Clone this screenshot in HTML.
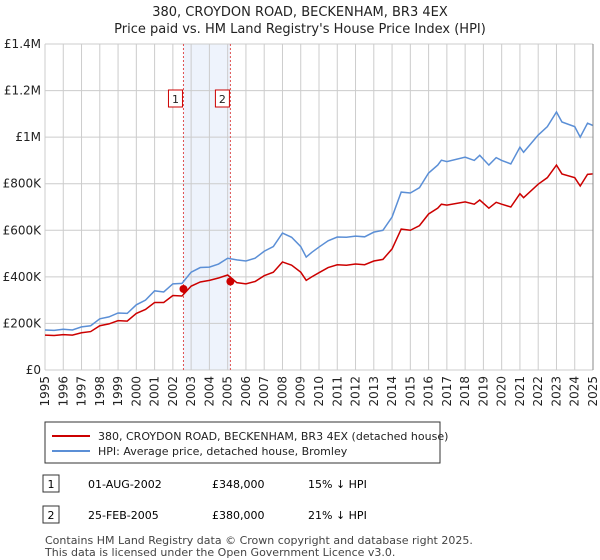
<!DOCTYPE html>
<html><head><meta charset="utf-8"><style>
body{margin:0;background:#fff;font-family:"Liberation Sans","DejaVu Sans",sans-serif;}
#wrap{position:relative;width:600px;height:560px;overflow:hidden}
text{font-family:"DejaVu Sans","Liberation Sans",sans-serif}
</style></head><body><div id="wrap">
<svg id="svg" width="600" height="560">
<text x="300" y="16" text-anchor="middle" font-size="13" fill="#222">380, CROYDON ROAD, BECKENHAM, BR3 4EX</text>
<text x="300" y="33" text-anchor="middle" font-size="13" fill="#222">Price paid vs. HM Land Registry's House Price Index (HPI)</text>
<g id="grid"></g><g id="marks"></g><g id="axes"></g>
<rect x="45" y="422" width="395" height="41" fill="#fff" stroke="#333"/>
<line x1="52" y1="436" x2="90" y2="436" stroke="#cc0000" stroke-width="2"/>
<text x="98" y="440" font-size="11" fill="#222">380, CROYDON ROAD, BECKENHAM, BR3 4EX (detached house)</text>
<line x1="52" y1="451" x2="90" y2="451" stroke="#5b8fd6" stroke-width="2"/>
<text x="98" y="455" font-size="11" fill="#222">HPI: Average price, detached house, Bromley</text>
<rect x="43" y="475" width="16" height="17" fill="#fff" stroke="#333"/>
<text x="51" y="488" font-size="11" text-anchor="middle">1</text>
<text x="88" y="488" font-size="11">01-AUG-2002</text>
<text x="212" y="488" font-size="11">£348,000</text>
<text x="308" y="488" font-size="11">15% ↓ HPI</text>
<rect x="43" y="506" width="16" height="17" fill="#fff" stroke="#333"/>
<text x="51" y="519" font-size="11" text-anchor="middle">2</text>
<text x="88" y="519" font-size="11">25-FEB-2005</text>
<text x="212" y="519" font-size="11">£380,000</text>
<text x="308" y="519" font-size="11">21% ↓ HPI</text>
<text x="45" y="544" font-size="11" fill="#444">Contains HM Land Registry data © Crown copyright and database right 2025.</text>
<text x="45" y="556" font-size="11" fill="#444">This data is licensed under the Open Government Licence v3.0.</text>
</svg></div>
<script>
const years=[1995,1995.5,1996,1996.5,1997,1997.5,1998,1998.5,1999,1999.5,2000,2000.5,2001,2001.5,2002,2002.5,2003,2003.5,2004,2004.5,2005,2005.5,2006,2006.5,2007,2007.5,2008,2008.5,2009,2009.3,2009.6,2010,2010.5,2011,2011.5,2012,2012.5,2013,2013.5,2014,2014.5,2015,2015.5,2016,2016.5,2016.7,2017,2018,2018.5,2018.8,2019.3,2019.7,2020,2020.5,2021,2021.2,2022,2022.5,2023,2023.3,2024,2024.3,2024.7,2025];
const hpi=[172,170,175,172,185,190,220,228,245,243,280,300,340,335,370,372,420,440,442,455,480,473,468,480,510,530,588,570,530,485,505,528,555,571,570,575,572,592,600,657,764,760,783,846,880,901,895,914,900,922,880,912,900,885,957,935,1009,1045,1108,1065,1045,1000,1060,1050];
const price=[150,148,152,150,160,165,190,198,212,210,243,260,290,290,320,318,360,378,385,395,408,375,370,380,405,420,464,450,420,385,400,418,440,452,450,455,452,468,475,520,605,600,620,670,695,712,708,722,712,730,695,720,712,700,757,740,798,826,880,842,826,790,840,842];
const saleYears=[2002.58,2005.15];
const salePrices=[348,380];
const yTicks=[0,200,400,600,800,1000,1200,1400];
const yTickLabels=["£0","£200K","£400K","£600K","£800K","£1M","£1.2M","£1.4M"];
const xTicks=[1995,1996,1997,1998,1999,2000,2001,2002,2003,2004,2005,2006,2007,2008,2009,2010,2011,2012,2013,2014,2015,2016,2017,2018,2019,2020,2021,2022,2023,2024,2025];
const NS="http://www.w3.org/2000/svg";
const X0=45,X1=593,Y0=370,Y1=44;
const sx=v=>X0+(v-1995)/30*(X1-X0);
const sy=v=>Y0-v/1400*(Y0-Y1);
function mk(tag,at,parent){const e=document.createElementNS(NS,tag);for(const k in at)e.setAttribute(k,at[k]);document.getElementById(parent).appendChild(e);return e;}
const band=mk('rect',{x:sx(saleYears[0]),y:Y1,width:sx(saleYears[1])-sx(saleYears[0]),height:Y0-Y1,fill:'#eef3fc'},'grid');


yTicks.forEach((t,i)=>{
 const l=mk('line',{x1:X0,x2:X1,y1:sy(t),y2:sy(t),stroke:'#ccc'},'grid');
 
 
 const tx=mk('text',{x:X0-4,y:sy(t)+4,'text-anchor':'end','font-size':12,fill:'#222'},'axes');
 tx.textContent=yTickLabels[i];
 
 
});
xTicks.forEach(t=>{
 const l=mk('line',{x1:sx(t),x2:sx(t),y1:Y1,y2:Y0,stroke:'#ccc'},'grid');
 
 
 const tx=mk('text',{x:0,y:0,'text-anchor':'end','font-size':12,fill:'#222',transform:`translate(${sx(t)+4},${Y0+6}) rotate(-90)`},'axes');
 tx.textContent=t;
 
 
});
const ax=mk('line',{x1:X1,x2:X1,y1:Y1,y2:Y0,stroke:'#888'},'axes');


saleYears.forEach((y,i)=>{
 const l=mk('line',{x1:sx(y),x2:sx(y),y1:Y1,y2:Y0,stroke:'#e05050','stroke-dasharray':'2,2'},'marks');
 
 
 const r=mk('rect',{x:sx(y)-15,y:90,width:14,height:17,fill:'#fff',stroke:'#cc0000'},'marks');
 
 
 const tx=mk('text',{x:sx(y)-8,y:103,'text-anchor':'middle','font-size':11,fill:'#222'},'marks');
 tx.textContent=i+1;
 
 
});
const hp=mk('polyline',{points:years.map((y,i)=>sx(y)+','+sy(hpi[i])).join(' '),fill:'none',stroke:'#5b8fd6','stroke-width':1.5},'marks');


const pp=mk('polyline',{points:years.map((y,i)=>sx(y)+','+sy(price[i])).join(' '),fill:'none',stroke:'#cc0000','stroke-width':1.5},'marks');


saleYears.forEach((y,i)=>{
 const c=mk('circle',{cx:sx(y),cy:sy(salePrices[i]),r:4,fill:'#cc0000'},'marks');
 
 
});
</script></body></html>
